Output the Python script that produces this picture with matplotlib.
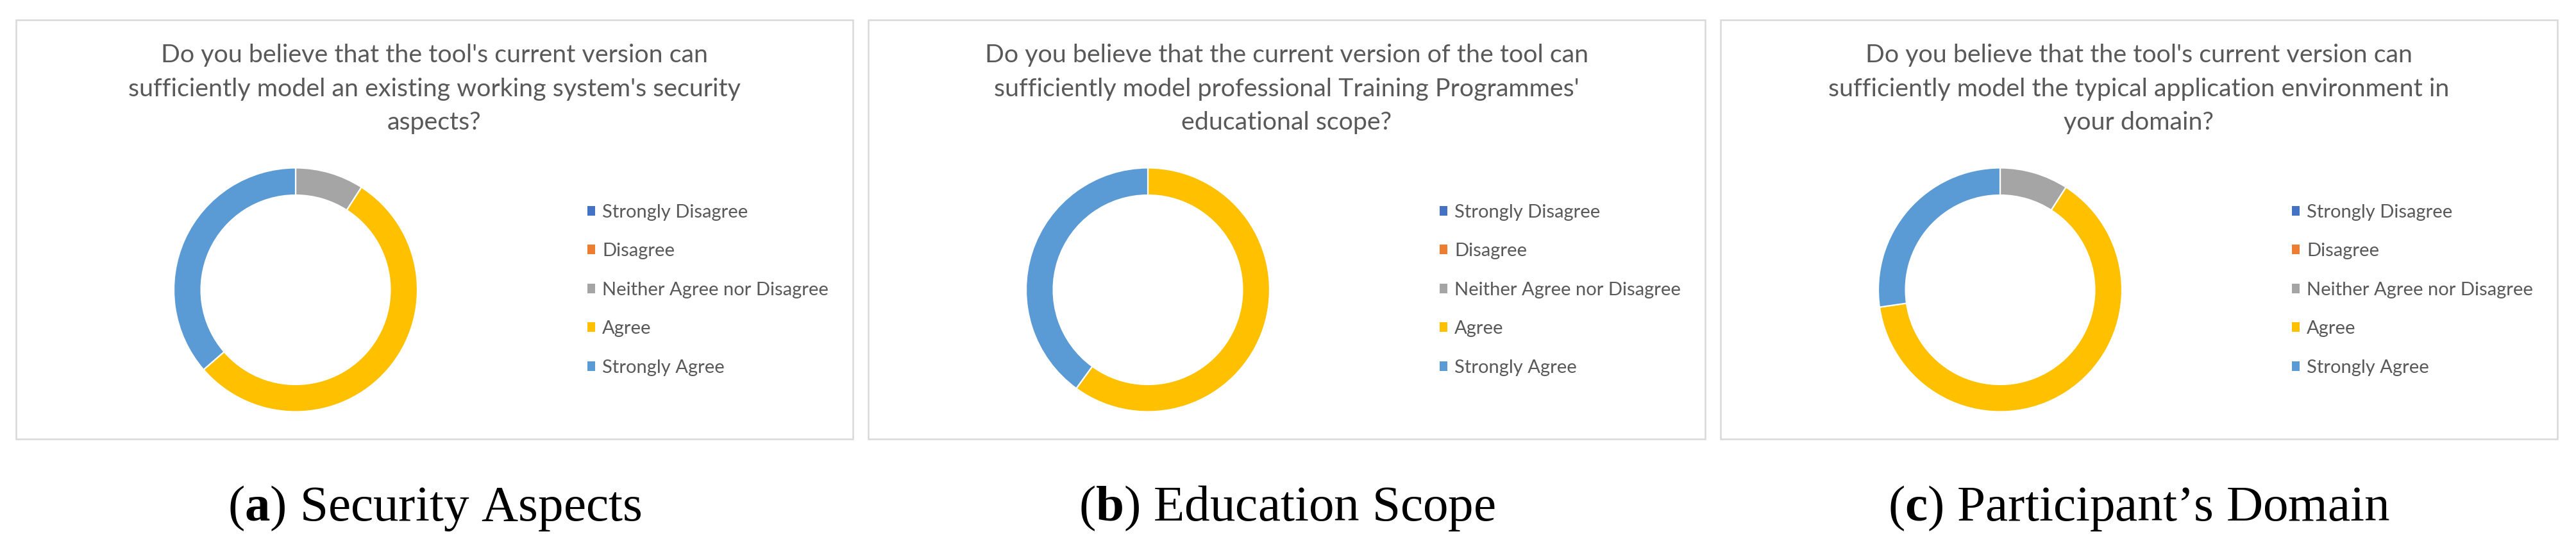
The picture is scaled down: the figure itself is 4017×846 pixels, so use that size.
import matplotlib
matplotlib.use("Agg")
import matplotlib.pyplot as plt
from matplotlib.patches import Rectangle, Patch

# ---------------- data ----------------
categories = ["Strongly Disagree", "Disagree", "Neither Agree nor Disagree",
              "Agree", "Strongly Agree"]
security_counts = [0, 0, 1, 6, 4]
education_counts = [0, 0, 0, 6, 4]
domain_counts = [0, 0, 1, 7, 3]

titles = [
    ["Do you believe that the tool's current version can",
     "sufficiently model an existing working system's security",
     "aspects?"],
    ["Do you believe that the current version of the tool can",
     "sufficiently model professional Training Programmes'",
     "educational scope?"],
    ["Do you believe that the tool's current version can",
     "sufficiently model the typical application environment in",
     "your domain?"],
]
caption_letters = ["a", "b", "c"]
caption_texts = ["Security Aspects", "Education Scope", "Participant\u2019s Domain"]

colors = ["#4472C4", "#ED7D31", "#A5A5A5", "#FFC000", "#5B9BD5"]
TEXT_COLOR = "#595959"

# ---------------- layout ----------------
W, H = 4017, 846
plt.rcParams["mathtext.fontset"] = "custom"
plt.rcParams["mathtext.rm"] = "Liberation Serif"
plt.rcParams["mathtext.bf"] = "Liberation Serif:bold"

fig = plt.figure(figsize=(W / 100, H / 100), dpi=100)
fig.patch.set_facecolor("white")

panel_lefts = [25, 1354, 2683]
panel_w = 1305
box_top, box_bot = 30.5, 683.5
R = 190
cy = 451.5

def fx(x):
    return x / W

def fy(y):
    return 1 - y / H

fig.canvas.draw()
renderer = fig.canvas.get_renderer()

def fit(t, target):
    for _ in range(4):
        w = t.get_window_extent(renderer).width
        t.set_fontsize(t.get_fontsize() * target / w)
    return t.get_fontsize()

# font sizes fitted to measured text widths
tmp = fig.text(0, 0, titles[0][0], family="Lato", fontsize=20)
title_fs = fit(tmp, 854)
tmp.remove()
tmp = fig.text(0, 0, categories[2], family="Lato", fontsize=20)
leg_fs = fit(tmp, 353)
tmp.remove()
tmp = fig.text(0, 0, r"($\mathbf{a}$) Security Aspects", family="Liberation Serif", fontsize=30)
cap_fs = fit(tmp, 645)
tmp.remove()

series = [security_counts, education_counts, domain_counts]
title_baselines = [97, 150, 202]

for i, left in enumerate(panel_lefts):
    # panel frame
    fig.add_artist(Rectangle((fx(left), fy(box_bot)), panel_w / W, (box_bot - box_top) / H,
                             transform=fig.transFigure, fill=False,
                             edgecolor="#D9D9D9", linewidth=1.8))
    pcx = left + panel_w / 2
    # title
    for line, yb in zip(titles[i], title_baselines):
        fig.text(fx(pcx), fy(yb), line, ha="center", va="baseline",
                 family="Lato", fontsize=title_fs, color=TEXT_COLOR)
    # donut
    dcx = left + 436
    ax = fig.add_axes([fx(dcx - R), fy(cy + R), 2 * R / W, 2 * R / H])
    ax.pie(series[i], colors=colors, startangle=90, counterclock=False, radius=1,
           wedgeprops=dict(width=0.224, edgecolor="white", linewidth=1.6))
    ax.set_xlim(-1, 1)
    ax.set_ylim(-1, 1)
    ax.set_aspect("equal")
    ax.axis("off")
    # legend
    fs_px = leg_fs * 100 / 72
    handles = [Patch(facecolor=c, edgecolor="none") for c in colors]
    ls = 0.8
    for _ in range(3):
        leg = fig.legend(handles, categories, loc="center left",
                         bbox_to_anchor=(fx(left + 891), fy(cy)),
                         frameon=False, prop=dict(family="Lato", size=leg_fs),
                         handlelength=12 / fs_px, handleheight=12 / fs_px,
                         handletextpad=11 / fs_px, labelspacing=ls,
                         borderpad=0, borderaxespad=0, labelcolor=TEXT_COLOR)
        fig.canvas.draw()
        ys = [t.get_window_extent(renderer).y0 for t in leg.get_texts()]
        pitch = (ys[0] - ys[-1]) / 4
        if abs(pitch - 60.5) < 0.3:
            break
        ls += (60.5 - pitch) / fs_px
        leg.remove()
    # caption
    fig.text(fx(pcx), fy(811), r"($\mathbf{%s}$) %s" % (caption_letters[i], caption_texts[i]),
             ha="center", va="baseline", family="Liberation Serif",
             fontsize=cap_fs, color="black")

fig.savefig("out.png", dpi=100, facecolor="white")
